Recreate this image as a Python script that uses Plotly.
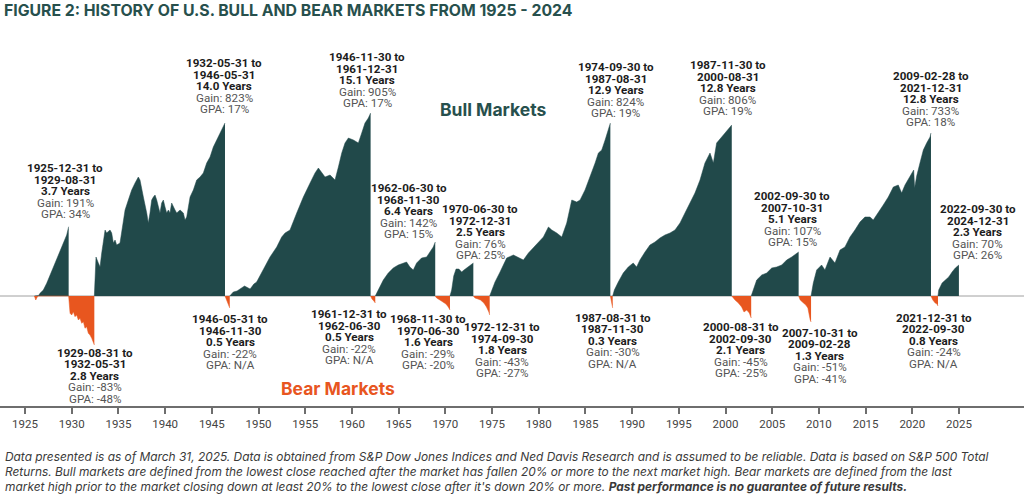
import plotly.graph_objects as go

GREEN = "#21494a"
ORANGE = "#e8561f"
TEAL_TEXT = "#27504d"

# market labels, in date order
starts = ["1925-12-31", "1929-08-31", "1932-05-31", "1946-05-31", "1946-11-30", "1961-12-31",
          "1962-06-30", "1968-11-30", "1970-06-30", "1972-12-31", "1974-09-30", "1987-08-31",
          "1987-11-30", "2000-08-31", "2002-09-30", "2007-10-31", "2009-02-28", "2021-12-31",
          "2022-09-30"]
ends = ["1929-08-31", "1932-05-31", "1946-05-31", "1946-11-30", "1961-12-31", "1962-06-30",
        "1968-11-30", "1970-06-30", "1972-12-31", "1974-09-30", "1987-08-31", "1987-11-30",
        "2000-08-31", "2002-09-30", "2007-10-31", "2009-02-28", "2021-12-31", "2022-09-30",
        "2024-12-31"]
durations = ["3.7", "2.8", "14.0", "0.5", "15.1", "0.5", "6.4", "1.6", "2.5", "1.8", "12.9",
             "0.3", "12.8", "2.1", "5.1", "1.3", "12.8", "0.8", "2.3"]
gains = ["191%", "-83%", "823%", "-22%", "905%", "-22%", "142%", "-29%", "76%", "-43%", "824%",
         "-30%", "806%", "-45%", "107%", "-51%", "733%", "-24%", "70%"]
gpas = ["34%", "-48%", "17%", "N/A", "17%", "N/A", "15%", "-20%", "25%", "-27%", "19%", "N/A",
        "19%", "-25%", "15%", "-41%", "18%", "N/A", "26%"]

# where each label block sits (year, chart level of the first line)
label_x = [1929.28, 1932.49, 1946.31, 1946.95, 1961.62, 1959.69, 1966.11, 1968.18, 1973.72,
           1976.1, 1988.24, 1987.92, 2000.24, 2001.63, 2007.15, 2010.1, 2021.97, 2022.32, 2027.0]
label_y = [128, -56.7, 233, -23.3, 239, -18, 108, -23.3, 87, -31.3, 229, -21.7, 231, -31.3,
           100, -36.7, 220, -21.7, 87]

# cumulative path of each market (decimal year, chart level)
bull_1926_x = [1926.0, 1926.15, 1926.3, 1926.45, 1926.6, 1926.96, 1927.32, 1927.68, 1928.03,
               1928.39, 1928.75, 1929.10, 1929.46, 1929.67]
bull_1926_y = [0, -4, -1, 0.5, 2.7, 6, 12.7, 21, 29.3, 36, 46, 52.7, 61, 69.3]

bear_1929_x = [1929.67, 1929.75, 1929.82, 1930.0, 1930.17, 1930.35, 1930.53, 1930.71, 1930.89,
               1931.07, 1931.25, 1931.42, 1931.6, 1931.78, 1931.96, 1932.14, 1932.32, 1932.42]
bear_1929_y = [0, -12, -17.3, -19, -15.7, -20.7, -19, -24, -22.3, -27.3, -25.7, -32.3, -30.7,
               -37.3, -39, -42.3, -47.3, -49]

bull_1932_x = [1932.42, 1932.6, 1932.85, 1933.03, 1933.21, 1933.39, 1933.57, 1933.74, 1934.1,
               1934.28, 1934.46, 1934.64, 1934.81, 1935.17, 1935.35, 1935.53, 1935.71, 1936.06,
               1936.42, 1936.78, 1937.13, 1937.31, 1937.49, 1937.67, 1938.03, 1938.2, 1938.38,
               1938.56, 1938.74, 1938.92, 1939.1, 1939.28, 1939.45, 1939.63, 1939.81, 1939.99,
               1940.17, 1940.35, 1940.52, 1940.7, 1940.88, 1941.06, 1941.24, 1941.6, 1941.95,
               1942.13, 1942.31, 1942.49, 1942.67, 1943.02, 1943.38, 1943.74, 1944.09, 1944.45,
               1944.81, 1945.16, 1945.52, 1945.88, 1946.24, 1946.41]
bull_1932_y = [0, 39, 33, 29, 43, 56, 66, 63, 66, 63, 53, 56, 51, 53, 63, 76, 86, 96, 106, 113,
               119, 116, 109, 99, 83, 73, 83, 96, 99, 101, 96, 89, 83, 93, 96, 89, 83, 86, 83, 93,
               89, 86, 83, 86, 83, 76, 79, 89, 99, 106, 116, 119, 123, 133, 139, 149, 156, 163,
               169, 173]

bear_1946_x = [1946.41, 1946.6, 1946.75, 1946.92]
bear_1946_y = [0, -4, -8, -12]

bull_1946_x = [1946.92, 1947.3, 1947.7, 1948.0, 1948.5, 1949.1, 1949.5, 1949.8, 1950.52, 1951.23,
               1951.95, 1952.48, 1952.84, 1953.37, 1954.09, 1954.8, 1955.52, 1956.05, 1956.41,
               1956.77, 1957.12, 1957.66, 1958.19, 1958.55, 1958.91, 1959.26, 1959.62, 1960.16,
               1960.69, 1961.05, 1961.4, 1961.76, 1962.0]
bull_1946_y = [0, 4, 5, 7, 10, 7, 12, 14, 26, 39, 49, 59, 63, 66, 83, 99, 113, 123, 128, 123,
               119, 121, 116, 129, 143, 153, 158, 156, 153, 163, 173, 178, 183]

bear_1962_x = [1962.0, 1962.15, 1962.35, 1962.5]
bear_1962_y = [0, -3, -5, -7]

bull_1962_x = [1962.5, 1962.65, 1963.0, 1963.36, 1963.89, 1964.43, 1964.96, 1965.5, 1965.85,
               1966.21, 1966.57, 1966.93, 1967.46, 1968.0, 1968.36, 1968.71, 1968.92]
bull_1962_y = [0, 3, 9, 16, 23, 28, 31, 33, 34, 29, 26, 33, 38, 39, 44, 49, 54]

bear_1968_x = [1968.92, 1969.07, 1969.42, 1969.78, 1970.07, 1970.32, 1970.42, 1970.5]
bear_1968_y = [0, -2, -4, -6, -8, -11, -14, -14]

bull_1970_x = [1970.5, 1970.68, 1970.9, 1971.15, 1971.45, 1971.75, 1972.0, 1972.3, 1972.64, 1973.0]
bull_1970_y = [0, 6, 20, 27, 27, 24, 26, 28, 30, 33]

bear_1973_x = [1973.0, 1973.18, 1973.5, 1973.77, 1974.13, 1974.41, 1974.66, 1974.75]
bear_1973_y = [0, -2, -3, -4, -7, -11, -16, -19]

bull_1974_x = [1974.75, 1975.32, 1975.86, 1976.57, 1977.29, 1978.0, 1978.36, 1978.9, 1979.43,
               1979.97, 1980.5, 1981.04, 1981.4, 1981.93, 1982.47, 1983.0, 1983.54, 1984.07,
               1984.43, 1984.96, 1985.5, 1986.04, 1986.39, 1986.75, 1987.11, 1987.46, 1987.67]
bull_1974_y = [0, 14, 24, 38, 41, 38, 36, 43, 48, 53, 59, 69, 66, 63, 59, 73, 96, 94, 96, 106,
               119, 133, 143, 146, 156, 166, 173]

bear_1987_x = [1987.67, 1987.75, 1987.83, 1987.92]
bear_1987_y = [0, -4, -8, -12]

bull_1987_x = [1987.92, 1988.1, 1988.52, 1989.05, 1989.59, 1990.12, 1990.48, 1990.84, 1991.38,
               1991.91, 1992.45, 1992.98, 1993.52, 1994.06, 1994.59, 1995.13, 1995.66, 1996.2,
               1996.73, 1997.27, 1997.8, 1998.34, 1998.7, 1999.05, 1999.59, 2000.12, 2000.48,
               2000.67]
bull_1987_y = [0, 6, 14, 23, 29, 33, 29, 36, 44, 51, 54, 58, 61, 63, 66, 73, 83, 93, 103, 116,
               133, 143, 133, 153, 159, 164, 168, 171]

bear_2000_x = [2000.67, 2000.84, 2001.02, 2001.38, 2001.73, 2001.98, 2002.27, 2002.55, 2002.75]
bear_2000_y = [0, -2, -4, -7, -11, -16, -14, -17, -22]

bull_2002_x = [2002.75, 2002.98, 2003.34, 2003.88, 2004.41, 2004.95, 2005.48, 2006.02, 2006.55,
               2007.09, 2007.63, 2007.83]
bull_2002_y = [0, 6, 16, 21, 23, 28, 29, 31, 36, 39, 43, 44]

bear_2007_x = [2007.83, 2008.0, 2008.35, 2008.6, 2008.82, 2008.97, 2009.07, 2009.16]
bear_2007_y = [0, -4, -7, -9, -12, -21, -24, -26]

bull_2009_x = [2009.16, 2009.4, 2009.76, 2010.29, 2010.65, 2011.19, 2011.72, 2012.26, 2012.79,
               2013.33, 2013.86, 2014.4, 2014.93, 2015.47, 2015.82, 2016.36, 2016.89, 2017.43,
               2017.97, 2018.5, 2018.86, 2019.22, 2019.75, 2020.15, 2020.25, 2020.47, 2020.82,
               2021.18, 2021.54, 2021.9, 2022.0]
bull_2009_y = [0, 13, 26, 31, 26, 39, 33, 46, 49, 59, 66, 74, 79, 79, 76, 83, 91, 99, 109, 111,
               103, 111, 119, 126, 108, 120, 133, 146, 153, 159, 163]

bear_2022_x = [2022.0, 2022.2, 2022.45, 2022.65, 2022.75]
bear_2022_y = [0, -4, -7, -8, -10]

bull_2022_x = [2022.75, 2022.83, 2023.19, 2023.54, 2023.9, 2024.26, 2024.61, 2024.99]
bull_2022_y = [0, 6, 13, 16, 19, 24, 28, 31]

tick_years = list(range(1925, 2030, 5))

paths = [
    (bull_1926_x, bull_1926_y), (bear_1929_x, bear_1929_y), (bull_1932_x, bull_1932_y),
    (bear_1946_x, bear_1946_y), (bull_1946_x, bull_1946_y), (bear_1962_x, bear_1962_y),
    (bull_1962_x, bull_1962_y), (bear_1968_x, bear_1968_y), (bull_1970_x, bull_1970_y),
    (bear_1973_x, bear_1973_y), (bull_1974_x, bull_1974_y), (bear_1987_x, bear_1987_y),
    (bull_1987_x, bull_1987_y), (bear_2000_x, bear_2000_y), (bull_2002_x, bull_2002_y),
    (bear_2007_x, bear_2007_y), (bull_2009_x, bull_2009_y), (bear_2022_x, bear_2022_y),
    (bull_2022_x, bull_2022_y),
]

fig = go.Figure()

# gains above zero are green, anything below zero is orange
for xs, ys in paths:
    if any(v > 0 for v in ys):
        fig.add_trace(go.Scatter(x=xs, y=[max(v, 0) for v in ys], mode="lines",
                                 line=dict(width=0.5, color=GREEN), fill="tozeroy",
                                 fillcolor=GREEN, hoverinfo="skip", showlegend=False))
    if any(v < 0 for v in ys):
        fig.add_trace(go.Scatter(x=xs, y=[min(v, 0) for v in ys], mode="lines",
                                 line=dict(width=0.5, color=ORANGE), fill="tozeroy",
                                 fillcolor=ORANGE, hoverinfo="skip", showlegend=False))

LINE_GAP = 11.5
for i in range(len(starts)):
    lines = [
        ("<b>%s to</b>" % starts[i], "#1c1c1c"),
        ("<b>%s</b>" % ends[i], "#1c1c1c"),
        ("<b>%s Years</b>" % durations[i], "#1c1c1c"),
        ("Gain: %s" % gains[i], "#555555"),
        ("GPA: %s" % gpas[i], "#555555"),
    ]
    for j, (txt, col) in enumerate(lines):
        fig.add_annotation(x=label_x[i], y=label_y[i], xref="x", yref="y", text=txt,
                           showarrow=False, xanchor="center", yanchor="middle",
                           yshift=-j * LINE_GAP, borderpad=0,
                           font=dict(family="Roboto", size=11.6, color=col))

fig.add_annotation(x=1975.1, y=187, text="<b>Bull Markets</b>", showarrow=False,
                   font=dict(family="Inter", size=17.5, color=TEAL_TEXT))
fig.add_annotation(x=1958.46, y=-92, text="<b>Bear Markets</b>", showarrow=False,
                   font=dict(family="Inter", size=17.5, color=ORANGE))

fig.add_annotation(x=0.002, y=1.052, xref="paper", yref="paper", xanchor="left",
                   yanchor="middle", showarrow=False,
                   text="<b>FIGURE 2: HISTORY OF U.S. BULL AND BEAR MARKETS FROM 1925 - 2024</b>",
                   font=dict(family="Inter", size=15.8, color=TEAL_TEXT))

footer = [
    "Data presented is as of March 31, 2025. Data is obtained from S&amp;P Dow Jones Indices and "
    "Ned Davis Research and is assumed to be reliable. Data is based on S&amp;P 500 Total",
    "Returns. Bull markets are defined from the lowest close reached after the market has fallen "
    "20% or more to the next market high. Bear markets are defined from the last",
    "market high prior to the market closing down at least 20% to the lowest close after it's "
    "down 20% or more. <b>Past performance is no guarantee of future results.</b>",
]
for k, line in enumerate(footer):
    fig.add_annotation(x=0.003, y=-0.1348 - k * 0.0399, xref="paper", yref="paper",
                       xanchor="left", yanchor="middle", showarrow=False,
                       text="<i>%s</i>" % line,
                       font=dict(family="Inter", size=11.9, color="#3a3a3a"))

# zero baseline across the whole width
fig.add_shape(type="line", xref="paper", yref="y", x0=0, x1=1, y0=0, y1=0,
              line=dict(color="#a0a0a0", width=1), layer="below")

fig.update_layout(
    width=1024, height=495,
    margin=dict(l=0, r=0, t=30, b=89),
    paper_bgcolor="white", plot_bgcolor="white",
    xaxis=dict(range=[1922.32, 2031.96], tickvals=tick_years, showgrid=False, zeroline=False,
               showline=True, linecolor="#6e6e6e", linewidth=1.5, ticks="outside", ticklen=6,
               tickwidth=1.5, tickcolor="#6e6e6e",
               tickfont=dict(family="Roboto", size=11.5, color="#444444")),
    yaxis=dict(range=[-110, 266], visible=False),
)

fig.write_html("out.html", config={"displayModeBar": False},
               post_script="document.body.style.margin='0';")
